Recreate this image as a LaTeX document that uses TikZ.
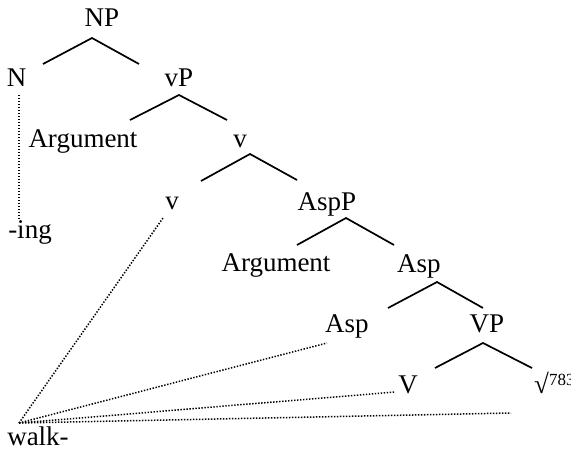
\documentclass[tikz,border=0pt]{standalone}
\usepackage{fontspec}
\setmainfont{Liberation Serif}
\begin{document}
\begin{tikzpicture}[x=1pt,y=-1pt,
  lab/.style={anchor=base, inner sep=0pt, font=\fontsize{27}{31}\selectfont},
  br/.style={line width=1.7pt, line join=miter},
  dotl/.style={line width=1.5pt, dash pattern=on 1.4pt off 1.6pt}]
\useasboundingbox (0,0) rectangle (571,459);
% labels
\node[lab] (NP) at (102,26) {NP};
\node[lab] (N) at (16.5,86) {N};
\node[lab] (vP) at (179,86) {vP};
\node[lab] (arg1) at (83,147) {Argument};
\node[lab] (v1) at (240,147) {v};
\node[lab] (v2) at (172,209) {v};
\node[lab] (AspP) at (327,210) {AspP};
\node[lab] (ing) at (30,238) {-ing};
\node[lab] (arg2) at (276,271) {Argument};
\node[lab] (asp1) at (419,272) {Asp};
\node[lab] (asp2) at (347,332) {Asp};
\node[lab] (VP) at (487,332) {VP};
\node[lab] (V) at (408,393) {V};
\node[lab, anchor=base west] (root) at (534,393) {√\raisebox{8pt}{\fontsize{17}{18}\selectfont 783}};
\node[lab] (walk) at (38,445) {walk-};
% branch points
\coordinate (npa) at (92,38);  \coordinate (npl) at (43,64);  \coordinate (npr) at (139,64);
\coordinate (vpa) at (179,95); \coordinate (vpl) at (130,120); \coordinate (vpr) at (227,120);
\coordinate (v1a) at (250,154); \coordinate (v1l) at (201,181); \coordinate (v1r) at (297,180);
\coordinate (aspPa) at (346,218); \coordinate (aspPl) at (297,245); \coordinate (aspPr) at (394,245);
\coordinate (asp1a) at (437,282); \coordinate (asp1l) at (388,308); \coordinate (asp1r) at (483,308);
\coordinate (VPa) at (483,343); \coordinate (VPl) at (435,368); \coordinate (VPr) at (532,368);
\draw[br] (npl) -- (npa) -- (npr);
\draw[br] (vpl) -- (vpa) -- (vpr);
\draw[br] (v1l) -- (v1a) -- (v1r);
\draw[br] (aspPl) -- (aspPa) -- (aspPr);
\draw[br] (asp1l) -- (asp1a) -- (asp1r);
\draw[br] (VPl) -- (VPa) -- (VPr);
% dotted associations
\coordinate (Ntop) at (19,95); \coordinate (Nbot) at (19,220);
\coordinate (w) at (19,423);
\coordinate (v2e) at (163,218);
\coordinate (asp2e) at (327,343);
\coordinate (Ve) at (395,392);
\coordinate (roote) at (511,413);
\draw[dotl] (Ntop) -- (Nbot);
\draw[dotl] (w) -- (v2e);
\draw[dotl] (w) -- (asp2e);
\draw[dotl] (w) -- (Ve);
\draw[dotl] (w) -- (roote);
\end{tikzpicture}
\end{document}
